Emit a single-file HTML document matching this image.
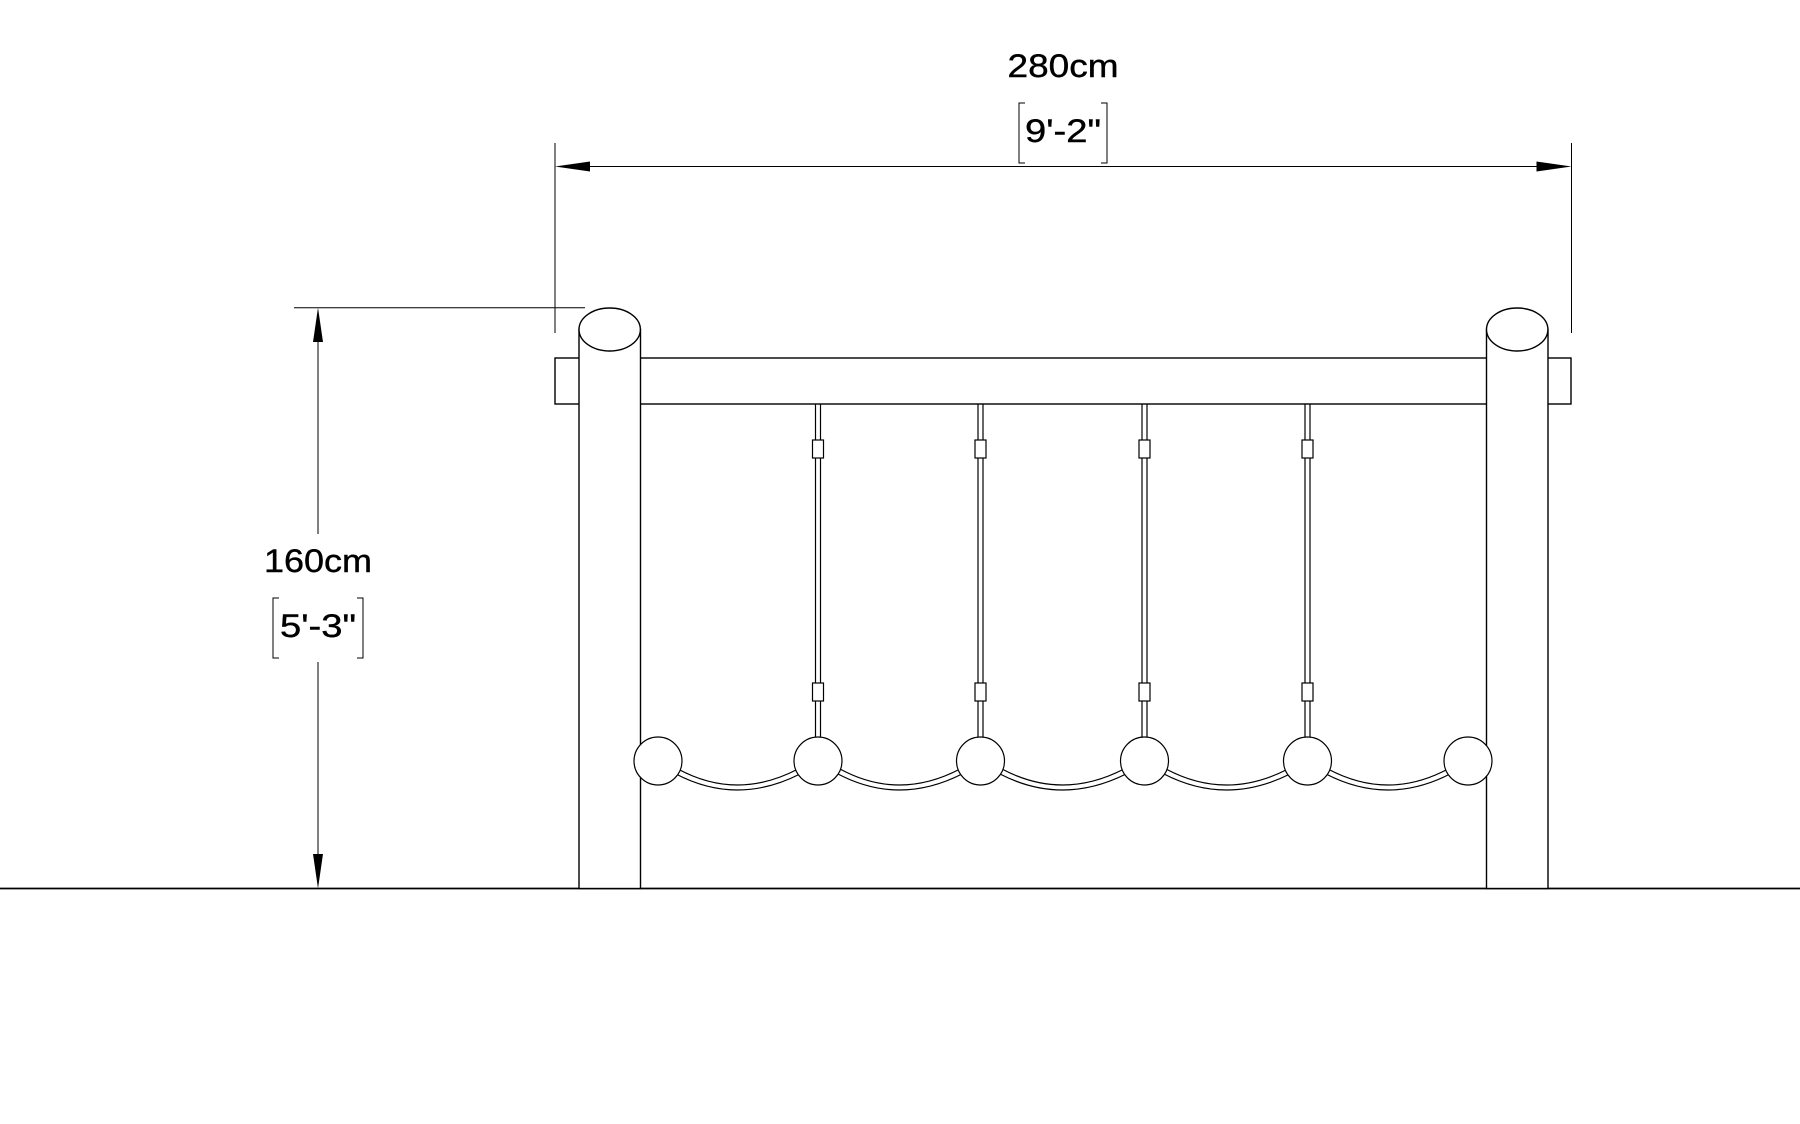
<!DOCTYPE html>
<html><head><style>html,body{margin:0;padding:0;background:#fff}svg{display:block}</style></head>
<body>
<svg width="1800" height="1124" viewBox="0 0 1800 1124" xmlns="http://www.w3.org/2000/svg">
<g fill="none" stroke="#000" stroke-width="1.4">
<line x1="0" y1="888.5" x2="1800" y2="888.5" stroke-width="1.8"/>
<rect x="555" y="358" width="1016" height="46" fill="#fff"/>
<rect x="579" y="329.5" width="61.5" height="559" fill="#fff"/>
<rect x="1486.5" y="329.5" width="61.5" height="559" fill="#fff"/>
<ellipse cx="609.7" cy="329.5" rx="30.7" ry="21.5" fill="#fff"/>
<ellipse cx="1517.2" cy="329.5" rx="30.7" ry="21.5" fill="#fff"/>
</g>
<g fill="none" stroke="#000" stroke-width="1.2">
<g id="h">
<line x1="815.5" y1="404" x2="815.5" y2="740"/>
<line x1="820.5" y1="404" x2="820.5" y2="740"/>
<rect x="812.5" y="440" width="11" height="18" fill="#fff"/>
<rect x="812.5" y="683" width="11" height="18" fill="#fff"/>
</g>
<use href="#h" x="162.5"/>
<use href="#h" x="326.5"/>
<use href="#h" x="489.5"/>
<path d="M676 774 Q737 806 800 774 M678 769 Q737 801 798 769"/>
<path d="M838 774 Q899 806 962 774 M840 769 Q899 801 960 769"/>
<path d="M1000 774 Q1062 806 1126 774 M1002 769 Q1062 801 1124 769"/>
<path d="M1164 774 Q1226 806 1290 774 M1166 769 Q1226 801 1288 769"/>
<path d="M1326 774 Q1388 806 1450 774 M1328 769 Q1388 801 1448 769"/>
<g fill="#fff">
<circle cx="658" cy="761" r="24"/>
<circle cx="818" cy="761" r="24"/>
<circle cx="980.5" cy="761" r="24"/>
<circle cx="1144.5" cy="761" r="24"/>
<circle cx="1307.5" cy="761" r="24"/>
<circle cx="1468" cy="761" r="24"/>
</g>
</g>
<g stroke="#000" stroke-width="1" fill="none">
<line x1="555" y1="143" x2="555" y2="333"/>
<line x1="1571.5" y1="143" x2="1571.5" y2="333"/>
<line x1="585" y1="166.5" x2="1541" y2="166.5"/>
<line x1="294" y1="307.7" x2="585" y2="307.7"/>
<line x1="318" y1="340" x2="318" y2="534"/>
<line x1="318" y1="662" x2="318" y2="855"/>
<path d="M1025 103 h-6 v60 h6 M1101 103 h6 v60 h-6"/>
<path d="M279 598 h-6 v60 h6 M357 598 h6 v60 h-6"/>
</g>
<g fill="#000">
<polygon points="555,166.5 590,161.5 590,171.5"/>
<polygon points="1571.5,166.5 1536.5,161.5 1536.5,171.5"/>
<polygon points="318,307.7 313,342 323,342"/>
<polygon points="318,888.5 313,854 323,854"/>
</g>
<g font-family="Liberation Sans, sans-serif" font-size="32" fill="#000" text-anchor="middle" stroke="#000" stroke-width="0.4">
<text x="1063" y="77" textLength="111" lengthAdjust="spacingAndGlyphs">280cm</text>
<text x="1063" y="142" textLength="76" lengthAdjust="spacingAndGlyphs">9'-2"</text>
<text x="318" y="572" textLength="108" lengthAdjust="spacingAndGlyphs">160cm</text>
<text x="318" y="637" textLength="76" lengthAdjust="spacingAndGlyphs">5'-3"</text>
</g>
</svg>
</body></html>
